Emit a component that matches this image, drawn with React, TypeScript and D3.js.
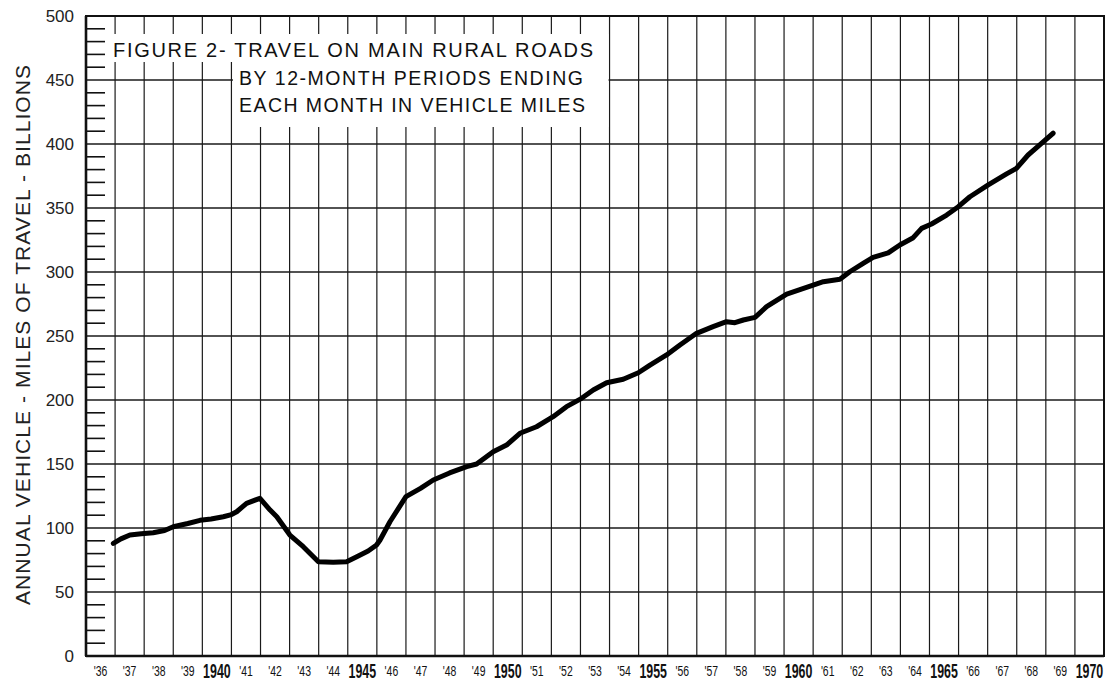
import React from "react";
import { scaleLinear, line, range } from "d3";

const width = 1106, height = 682;
const margin = { left: 86, right: 2, top: 16, bottom: 26 };

// period end (decimal year) and annual vehicle-miles, billions
const periodEnd = [
  1936.94, 1937.2, 1937.51, 1937.9, 1938.31, 1938.7, 1939.0, 1939.5, 1939.92, 1940.3,
  1940.72, 1941.0, 1941.18, 1941.52, 1941.98, 1942.33, 1942.56, 1943.01, 1943.47, 1943.99,
  1944.5, 1944.96, 1945.31, 1945.7, 1945.99, 1946.11, 1946.45, 1947.0, 1947.5, 1947.94,
  1948.5, 1949.09, 1949.43, 1950.0, 1950.46, 1950.92, 1951.49, 1952.06, 1952.52, 1953.04,
  1953.44, 1953.9, 1954.47, 1954.99, 1955.39, 1955.96, 1956.42, 1956.99, 1957.56, 1958.02,
  1958.31, 1958.6, 1959.0, 1959.4, 1960.09, 1961.0, 1961.35, 1961.92, 1962.26, 1962.72,
  1963.06, 1963.58, 1963.98, 1964.44, 1964.73, 1965.07, 1965.59, 1965.99, 1966.39, 1967.02,
  1967.65, 1967.99, 1968.39, 1968.85, 1969.25,
];
const billions = [
  88, 91.5, 94.5, 95.5, 96.3, 98, 101, 103.5, 106, 107,
  108.8, 110.5, 112.7, 119.3, 123.2, 114, 108.8, 94.5, 85.4, 73.7,
  73.2, 73.7, 77.6, 82, 86.7, 90.6, 104.9, 124.5, 131, 137.5,
  143, 147.9, 150, 159.6, 164.8, 174, 179.1, 187, 194.8, 201.3,
  207.8, 213.5, 216.2, 221.3, 227.3, 235.2, 243, 252.1, 257.3, 261.2,
  260.4, 262.5, 264.6, 272.9, 282.8, 289.8, 292.4, 294.3, 300.2, 306.8,
  311.5, 315, 321.1, 326.8, 334.1, 337.5, 344.5, 351, 358.8, 368,
  376.6, 381, 391.4, 400.5, 408.4,
];

const yearLabels = [
  "'36", "'37", "'38", "'39", "1940", "'41", "'42", "'43", "'44", "1945", "'46", "'47",
  "'48", "'49", "1950", "'51", "'52", "'53", "'54", "1955", "'56", "'57", "'58", "'59",
  "1960", "'61", "'62", "'63", "'64", "1965", "'66", "'67", "'68", "'69", "1970",
];
const yTicks = [0, 50, 100, 150, 200, 250, 300, 350, 400, 450, 500];
const titleLines = [
  "FIGURE 2- TRAVEL ON MAIN RURAL ROADS",
  "BY 12-MONTH PERIODS ENDING",
  "EACH MONTH IN VEHICLE MILES",
];
const yTitle = "ANNUAL VEHICLE - MILES OF TRAVEL - BILLIONS";

const font = "'Liberation Sans', Arial, sans-serif";

const App = () => {
  const x = scaleLinear().domain([1936, 1971]).range([margin.left, width - margin.right]);
  const y = scaleLinear().domain([0, 500]).range([height - margin.bottom, margin.top]);

  const pts = periodEnd.map((t, i) => [t, billions[i]] as [number, number]);
  const path = line<[number, number]>()
    .x(d => x(d[0]))
    .y(d => y(d[1]))(pts);

  const minor = range(10, 500, 10).filter(v => v % 50 !== 0);
  const bandW = x(1937) - x(1936);

  return (
    <svg width={width} height={height} style={{ position: "absolute", left: 0, top: 0, background: "#fff" }}>
      <rect width={width} height={height} fill="#fff" />

      {/* year lines */}
      {range(1937, 1971).map(yr => (
        <line key={yr} x1={x(yr)} x2={x(yr)} y1={y(500)} y2={y(0)} stroke="#1a1a1a" strokeWidth={1.2} />
      ))}
      {/* 50-unit lines */}
      {yTicks.filter(v => v > 0 && v < 500).map(v => (
        <line key={v} x1={x(1936)} x2={x(1971)} y1={y(v)} y2={y(v)} stroke="#1a1a1a" strokeWidth={1.3} />
      ))}
      {/* minor ticks on left */}
      {minor.map(v => (
        <line key={v} x1={x(1936)} x2={x(1936) + 19} y1={y(v)} y2={y(v)} stroke="#111" strokeWidth={1.6} />
      ))}

      {/* title panel */}
      <rect x={107} y={34} width={x(1954) - 107 - 1} height={28} fill="#fff" />
      <rect x={x(1941) + 1.5} y={62} width={x(1954) - x(1941) - 2.5} height={65} fill="#fff" />
      <text x={113} y={57} fontFamily={font} fontSize={20} fill="#111" textLength={480} lengthAdjust="spacing">
        {titleLines[0]}
      </text>
      <text x={239} y={84.5} fontFamily={font} fontSize={19.5} fill="#111" textLength={344} lengthAdjust="spacing">
        {titleLines[1]}
      </text>
      <text x={239} y={112} fontFamily={font} fontSize={19.5} fill="#111" textLength={346} lengthAdjust="spacing">
        {titleLines[2]}
      </text>

      {/* frame */}
      <rect x={x(1936)} y={y(500)} width={x(1971) - x(1936)} height={y(0) - y(500)} fill="none" stroke="#111" strokeWidth={2} />
      <line x1={x(1936)} x2={x(1936)} y1={y(500)} y2={y(0)} stroke="#111" strokeWidth={2.6} />
      <line x1={x(1936)} x2={x(1971)} y1={y(0)} y2={y(0)} stroke="#111" strokeWidth={2.4} />

      {/* data */}
      <path d={path ?? ""} fill="none" stroke="#000" strokeWidth={5} strokeLinejoin="round" strokeLinecap="round" />

      {/* y tick labels */}
      {yTicks.map(v => (
        <text key={v} x={74} y={y(v)} dy="0.36em" textAnchor="end" fontFamily={font} fontSize={17} fill="#222">
          {v}
        </text>
      ))}

      {/* year labels, condensed */}
      {yearLabels.map((lab, i) => {
        const big = lab.length === 4;
        const cx = x(1936 + i) + bandW / 2;
        return (
          <text key={lab} transform={`translate(${cx},${big ? 678 : 676}) scale(${big ? 0.62 : 0.72},1)`}
            textAnchor="middle" fontFamily={font} fontWeight={big ? "bold" : "normal"} fontSize={big ? 20 : 14.5}
            fill="#111">
            {lab}
          </text>
        );
      })}

      {/* y title */}
      <text transform="translate(30,335) rotate(-90)" textAnchor="middle" fontFamily={font} fontSize={21}
        fill="#222" textLength={540} lengthAdjust="spacing">
        {yTitle}
      </text>
    </svg>
  );
};

export default App;
